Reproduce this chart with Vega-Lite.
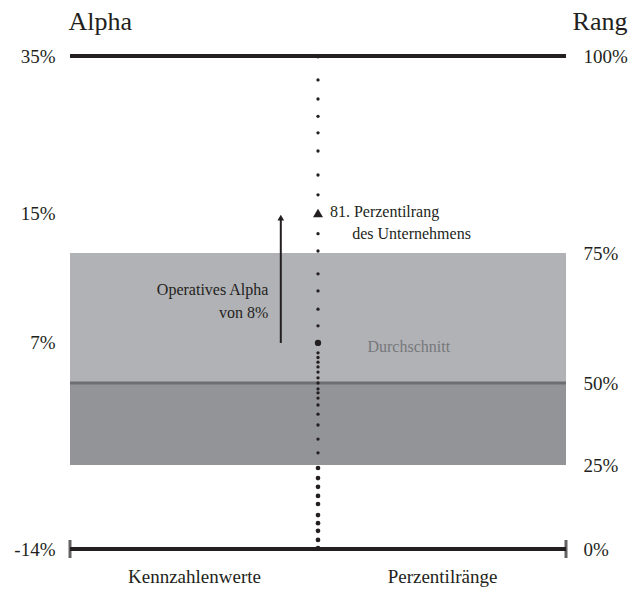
{
  "$schema": "https://vega.github.io/schema/vega-lite/v6.json",
  "width": 496,
  "height": 493,
  "autosize": {"type": "none"},
  "padding": {"left": 70, "top": 56, "right": 77, "bottom": 42},
  "background": "white",
  "config": {
    "view": {"stroke": null},
    "font": "Liberation Serif",
    "axis": {"grid": false, "domain": false, "ticks": false, "labelFont": "Liberation Serif", "labelColor": "#231f20", "titleFont": "Liberation Serif", "titleColor": "#231f20", "titleFontWeight": "normal"}
  },
  "datasets": {
    "band": [
      {"von": 25, "bis": 50, "zone": "unteres Quartil"},
      {"von": 50, "bis": 75, "zone": "oberes Quartil"}
    ],
    "linien": [
      {"rang": 100, "art": "oben"},
      {"rang": 0, "art": "unten"}
    ],
    "enden": [
      {"x": 0, "rang": 0},
      {"x": 100, "rang": 0}
    ],
    "punkte": [
      {"rang": 99.9}, {"rang": 97.1}, {"rang": 94.8}, {"rang": 92.7}, {"rang": 90.7},
      {"rang": 88.5}, {"rang": 85.6}, {"rang": 83.2}, {"rang": 77.9}, {"rang": 75.3},
      {"rang": 71.0}, {"rang": 67.7}, {"rang": 64.2}, {"rang": 61.0}, {"rang": 55.8},
      {"rang": 54.9}, {"rang": 54.0}, {"rang": 53.1}, {"rang": 52.1}, {"rang": 51.0},
      {"rang": 50.0}, {"rang": 48.2}, {"rang": 47.0}, {"rang": 45.4}, {"rang": 43.3},
      {"rang": 40.5}, {"rang": 37.2}, {"rang": 32.9}, {"rang": 28.7}, {"rang": 24.1},
      {"rang": 21.1}, {"rang": 18.5}, {"rang": 15.8}, {"rang": 13.4}, {"rang": 10.1},
      {"rang": 7.7}, {"rang": 5.4}, {"rang": 2.7}, {"rang": 0.3}
    ],
    "texte_links": [
      {"x": 52.4, "rang": 81.1, "text": "81. Perzentilrang"},
      {"x": 56.9, "rang": 77.9, "text": "des Unternehmens"}
    ],
    "texte_rechts": [
      {"x": 40.0, "rang": 67.9, "text": "Operatives Alpha"},
      {"x": 40.0, "rang": 63.5, "text": "von 8%"}
    ]
  },
  "resolve": {"axis": {"y": "independent"}},
  "layer": [
    {
      "data": {"name": "band"},
      "mark": {"type": "rect"},
      "encoding": {
        "x": {"datum": 0, "type": "quantitative", "scale": {"domain": [0, 100], "nice": false, "zero": false},
              "axis": {"orient": "bottom", "values": [25, 75], "labelExpr": "datum.value == 25 ? 'Kennzahlenwerte' : 'Perzentilränge'", "labelFontSize": 19, "labelPadding": 18, "labelBaseline": "top", "title": null}},
        "x2": {"datum": 100},
        "y": {"field": "von", "type": "quantitative",
              "scale": {"type": "linear", "domain": [0, 25, 50, 75, 81, 100], "range": [493, 409, 327, 197, 157, 0], "nice": false, "zero": false},
              "axis": {"orient": "left", "values": [0, 57.7, 81, 100], "labelExpr": "datum.value == 100 ? '35%' : datum.value == 81 ? '15%' : datum.value == 57.7 ? '7%' : '-14%'", "labelFontSize": 19, "labelPadding": 15, "labelBaseline": "middle",
                       "title": "Alpha", "titleAngle": 0, "titleFontSize": 26, "titleAlign": "left", "titleBaseline": "middle", "titleX": -2, "titleY": -35}},
        "y2": {"field": "bis"},
        "color": {"field": "zone", "type": "nominal", "scale": {"domain": ["unteres Quartil", "oberes Quartil"], "range": ["#939497", "#b1b2b6"]}, "legend": null}
      }
    },
    {
      "data": {"values": [{"rang": 50}]},
      "mark": {"type": "rule", "color": "#6d6e71", "strokeWidth": 3},
      "encoding": {
        "x": {"datum": 0, "type": "quantitative"},
        "x2": {"datum": 100},
        "y": {"field": "rang", "type": "quantitative",
              "axis": {"orient": "right", "values": [0, 25, 50, 75, 100], "labelExpr": "datum.value + '%'", "labelFontSize": 19, "labelPadding": 17, "labelBaseline": "middle",
                       "title": "Rang", "titleAngle": 0, "titleFontSize": 26, "titleAlign": "right", "titleBaseline": "middle", "titleX": 61, "titleY": -35}}
      }
    },
    {
      "data": {"name": "linien"},
      "mark": {"type": "rule", "color": "#231f20", "strokeWidth": 4},
      "encoding": {
        "x": {"datum": 0, "type": "quantitative"},
        "x2": {"datum": 100},
        "y": {"field": "rang", "type": "quantitative", "axis": null}
      }
    },
    {
      "data": {"name": "enden"},
      "mark": {"type": "tick", "orient": "vertical", "color": "#231f20", "thickness": 3, "size": 18},
      "encoding": {
        "x": {"field": "x", "type": "quantitative"},
        "y": {"field": "rang", "type": "quantitative", "axis": null}
      }
    },
    {
      "data": {"name": "punkte"},
      "mark": {"type": "circle", "color": "#231f20", "opacity": 1},
      "encoding": {
        "x": {"datum": 50, "type": "quantitative"},
        "y": {"field": "rang", "type": "quantitative", "axis": null},
        "size": {"condition": {"test": "datum.rang < 25", "value": 22}, "value": 11}
      }
    },
    {
      "data": {"values": [{"rang": 57.7, "name": "Durchschnitt"}]},
      "mark": {"type": "circle", "color": "#231f20", "opacity": 1, "size": 40},
      "encoding": {
        "x": {"datum": 50, "type": "quantitative"},
        "y": {"field": "rang", "type": "quantitative", "axis": null}
      }
    },
    {
      "data": {"values": [{"rang": 81, "name": "Unternehmen"}]},
      "mark": {"type": "point", "shape": "triangle-up", "filled": true, "color": "#231f20", "opacity": 1, "size": 100},
      "encoding": {
        "x": {"datum": 50, "type": "quantitative"},
        "y": {"field": "rang", "type": "quantitative", "axis": null}
      }
    },
    {
      "data": {"values": [{"von": 57.7, "bis": 80.2}]},
      "mark": {"type": "rule", "color": "#231f20", "strokeWidth": 2},
      "encoding": {
        "x": {"datum": 42.5, "type": "quantitative"},
        "y": {"field": "von", "type": "quantitative", "axis": null},
        "y2": {"field": "bis"}
      }
    },
    {
      "data": {"values": [{"rang": 80.3}]},
      "mark": {"type": "point", "shape": "triangle-up", "filled": true, "color": "#231f20", "opacity": 1, "size": 45},
      "encoding": {
        "x": {"datum": 42.5, "type": "quantitative"},
        "y": {"field": "rang", "type": "quantitative", "axis": null}
      }
    },
    {
      "data": {"name": "texte_links"},
      "mark": {"type": "text", "fontSize": 16, "color": "#231f20", "baseline": "middle", "align": "left"},
      "encoding": {
        "x": {"field": "x", "type": "quantitative"},
        "y": {"field": "rang", "type": "quantitative", "axis": null},
        "text": {"field": "text"}
      }
    },
    {
      "data": {"name": "texte_rechts"},
      "mark": {"type": "text", "fontSize": 16, "color": "#231f20", "baseline": "middle", "align": "right"},
      "encoding": {
        "x": {"field": "x", "type": "quantitative"},
        "y": {"field": "rang", "type": "quantitative", "axis": null},
        "text": {"field": "text"}
      }
    },
    {
      "data": {"values": [{"x": 68.3, "rang": 56.9, "text": "Durchschnitt"}]},
      "mark": {"type": "text", "fontSize": 16, "color": "#77787b", "baseline": "middle", "align": "center"},
      "encoding": {
        "x": {"field": "x", "type": "quantitative"},
        "y": {"field": "rang", "type": "quantitative", "axis": null},
        "text": {"field": "text"}
      }
    }
  ]
}
